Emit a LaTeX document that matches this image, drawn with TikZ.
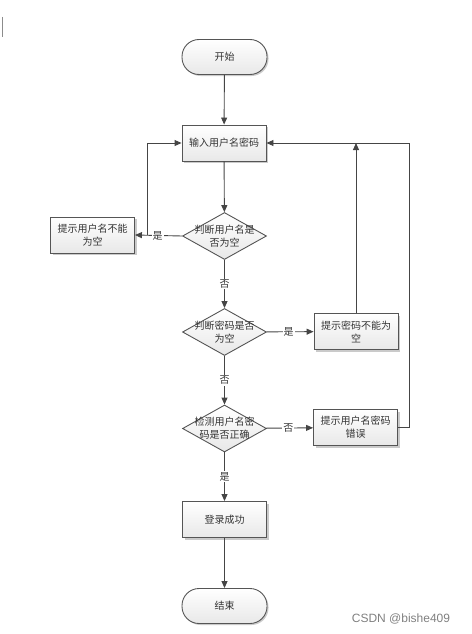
\documentclass[tikz,border=0pt]{standalone}
\usepackage{fontspec}
\newfontfamily\cjk{Noto Sans CJK SC}
\newfontfamily\wmfont{Liberation Sans}
\usetikzlibrary{arrows.meta,shapes.geometric,shadows}
\definecolor{edgec}{HTML}{555555}
\definecolor{linec}{HTML}{454545}
\tikzset{
  x=1pt,y=-1pt,
  every node/.style={font=\cjk\fontsize{10}{13}\selectfont, text=black!80, align=center},
  procbox/.style={rectangle, draw=edgec, line width=0.9pt, minimum width=84pt, minimum height=36pt,
    inner sep=1pt, top color=white, bottom color=black!9,
    drop shadow={shadow xshift=2pt, shadow yshift=-2pt, fill=black!35, opacity=0.6}},
  termbox/.style={rectangle, rounded corners=17pt, draw=edgec, line width=0.9pt, minimum width=85pt, minimum height=35pt,
    top color=white, bottom color=black!9,
    drop shadow={shadow xshift=1.5pt, shadow yshift=-1.5pt, fill=black!35, opacity=0.6}},
  decbox/.style={diamond, draw=edgec, line width=0.9pt, minimum width=84pt, minimum height=47pt, inner sep=0pt,
    top color=white, bottom color=black!9},
  arr/.style={draw=linec, line width=0.9pt, -{Triangle[length=7pt,width=6pt]}},
  ln/.style={draw=linec, line width=0.9pt},
  lab/.style={fill=white, inner sep=1pt},
}
\begin{document}
\begin{tikzpicture}
\useasboundingbox (0,0) rectangle (471,634);
\draw[black!45, line width=0.6pt] (2,17) -- (2,37);

\node[termbox] (start) at (224.5,57) {开始};
\node[procbox] (input) at (224,143) {输入用户名密码};
\node[decbox] (d1) at (224.5,236) {};
\node (t1) at (d1) {判断用户名是\\否为空};
\node[procbox] (box1) at (92.5,235) {提示用户名不能\\为空};
\node[decbox] (d2) at (224.5,332) {};
\node (t2) at (d2) {判断密码是否\\为空};
\node[procbox] (box2) at (356,331.5) {提示密码不能为\\空};
\node[decbox] (d3) at (224.5,428.5) {};
\node (t3) at (d3) {检测用户名密\\码是否正确};
\node[procbox] (box3) at (355.5,427.5) {提示用户名密码\\错误};
\node[procbox] (login) at (224.5,519.5) {登录成功};
\node[termbox] (end) at (224.5,606) {结束};

\coordinate (j1) at (147,235);
\coordinate (c3) at (409,427.5);
\coordinate (c4) at (409,143);

\draw[arr] (start) -- (input);
\draw[arr] (input) -- (d1);
\draw[arr] (d1.west) -- node[lab, pos=0.52] {是} (box1.east);
\draw[arr] (j1) |- (input.west);
\draw[arr] (d1) -- node[lab] {否} (d2);
\draw[arr] (d2) -- node[lab, pos=0.47] {是} (box2);
\draw[arr] (box2.north) -- (box2.north |- input.east);
\draw[arr] (d2) -- node[lab] {否} (d3);
\draw[arr] (d3) -- node[lab, pos=0.47] {否} (box3);
\draw[ln] (box3.east) -- (c3) -- (c4);
\draw[arr] (c4) -- (input.east);
\draw[arr] (d3) -- node[lab] {是} (login);
\draw[arr] (login) -- (end);

\node[font=\wmfont\fontsize{12}{14}\selectfont, text=black!50] (wm) at (401,619) {CSDN @bishe409};
\end{tikzpicture}
\end{document}
